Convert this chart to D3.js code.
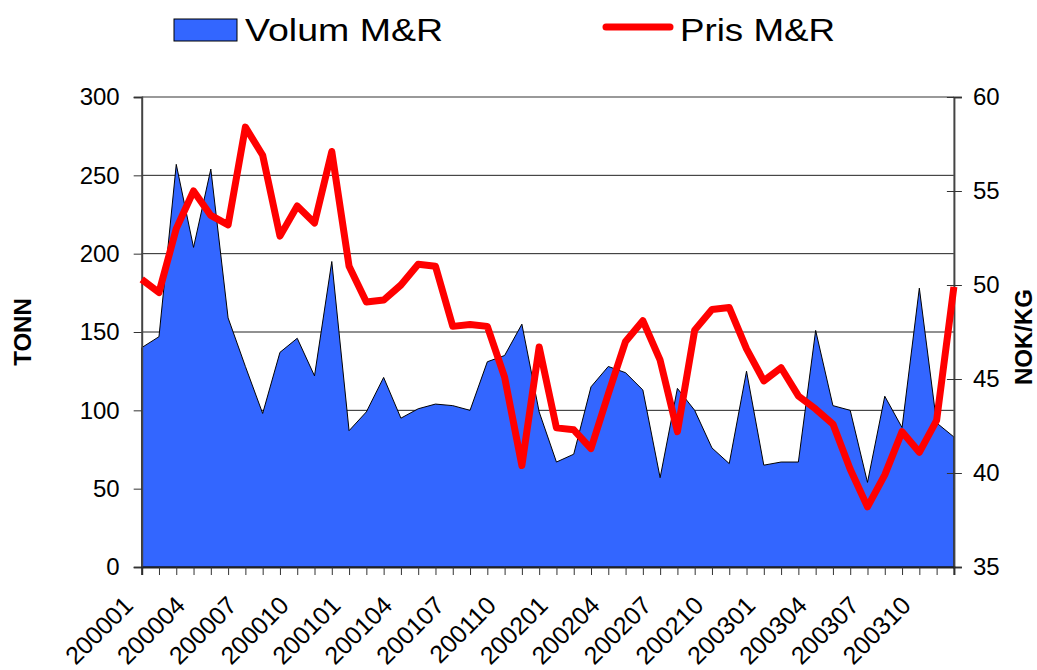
<!DOCTYPE html>
<html>
<head>
<meta charset="utf-8">
<title>Volum og pris M&amp;R</title>
<script src="https://d3js.org/d3.v7.min.js"></script>
<style>
  body { margin: 0; background: #fff; }
  svg text { font-family: "Liberation Sans", Arial, sans-serif; }
</style>
</head>
<body>
<svg id="chart" width="1037" height="670"></svg>
<script>
// months 2000-01 .. 2003-12
const months = [
  "200001","200002","200003","200004","200005","200006","200007","200008","200009","200010","200011","200012",
  "200101","200102","200103","200104","200105","200106","200107","200108","200109","200110","200111","200112",
  "200201","200202","200203","200204","200205","200206","200207","200208","200209","200210","200211","200212",
  "200301","200302","200303","200304","200305","200306","200307","200308","200309","200310","200311","200312"
]

// volume, tonn
const volum = [
  140, 147, 257, 204, 254, 159, 128, 98, 137, 146, 122, 195,
  87, 99, 121, 95, 101, 104, 103, 100, 131, 135, 155, 99,
  67, 72, 115, 128, 124, 113, 57, 114, 100, 76, 66, 125,
  65, 67, 67, 151, 103, 100, 54, 109, 89, 178, 92, 83
]

// price, NOK/kg
const pris = [
  50.3, 49.6, 53.0, 55.0, 53.7, 53.2, 58.4, 56.9, 52.6, 54.2, 53.3, 57.1,
  51.0, 49.1, 49.2, 50.0, 51.1, 51.0, 47.8, 47.9, 47.8, 45.1, 40.4, 46.7,
  42.4, 42.3, 41.3, 44.2, 47.0, 48.1, 46.0, 42.2, 47.6, 48.7, 48.8, 46.6,
  44.9, 45.6, 44.1, 43.4, 42.6, 40.2, 38.2, 39.9, 42.2, 41.1, 42.8, 49.9
]

const leftTicks = [0, 50, 100, 150, 200, 250, 300]
const rightTicks = [35, 40, 45, 50, 55, 60]

const svg = d3.select("#chart")
const pLeft = 141.7, pRight = 953.9, pTop = 97, pBottom = 567

let x = d3.scalePoint().domain(months).range([pLeft, pRight])
let yL = d3.scaleLinear().domain([0, 300]).range([pBottom, pTop])
let yR = d3.scaleLinear().domain([35, 60]).range([pBottom, pTop])

// gridlines (hidden behind the area)
svg.append("g")
  .selectAll("line")
  .data(leftTicks.filter(d => d > 0 && d < 300))
  .enter()
  .append("line")
  .attr("x1", pLeft).attr("x2", pRight)
  .attr("y1", d => yL(d)).attr("y2", d => yL(d))
  .attr("stroke", "#222")
  .attr("stroke-width", 1)

// top border of plot area
svg.append("line")
  .attr("x1", pLeft).attr("x2", pRight)
  .attr("y1", pTop).attr("y2", pTop)
  .attr("stroke", "#999")
  .attr("stroke-width", 2)

// volume area
let area = d3.area()
  .x((d, i) => x(months[i]))
  .y0(pBottom)
  .y1(d => yL(d))

svg.append("path")
  .datum(volum)
  .attr("d", area)
  .attr("fill", "#3366ff")
  .attr("stroke", "#000")
  .attr("stroke-width", 1)

// left axis
let axL = svg.append("g")
  .attr("transform", `translate(${pLeft},0)`)
  .call(d3.axisLeft(yL).tickValues(leftTicks).tickSize(8).tickPadding(14))
axL.select(".domain").attr("stroke", "#444").attr("stroke-width", 2)
axL.selectAll(".tick line").attr("stroke", "#333")
axL.selectAll("text").attr("font-size", 24).attr("fill", "#000")

// right axis
let axR = svg.append("g")
  .attr("transform", `translate(${pRight},0)`)
  .call(d3.axisRight(yR).tickValues(rightTicks).tickSize(8).tickPadding(11))
axR.select(".domain").attr("stroke", "#444").attr("stroke-width", 2)
axR.selectAll(".tick line").attr("stroke", "#333").attr("x1", -7)
axR.selectAll("text").attr("font-size", 24).attr("fill", "#000")

// bottom axis
let axB = svg.append("g")
  .attr("transform", `translate(0,${pBottom})`)
  .call(d3.axisBottom(x).tickSize(8).tickFormat(""))
axB.select(".domain").attr("stroke", "#222").attr("stroke-width", 2)
axB.selectAll(".tick line").attr("stroke", "#333")

svg.append("g")
  .selectAll("text")
  .data(months.filter((m, i) => i % 3 == 0))
  .enter()
  .append("text")
  .attr("transform", d => `translate(${x(d) - 7},607) rotate(-45)`)
  .attr("text-anchor", "end")
  .attr("font-size", 25)
  .text(d => d)

// price line
let line = d3.line()
  .x((d, i) => x(months[i]))
  .y(d => yR(d))

svg.append("path")
  .datum(pris)
  .attr("d", line)
  .attr("fill", "none")
  .attr("stroke", "#ff0000")
  .attr("stroke-width", 7)
  .attr("stroke-linejoin", "round")

// axis titles
svg.append("text")
  .attr("transform", "translate(31,332) rotate(-90)")
  .attr("text-anchor", "middle")
  .attr("font-size", 24)
  .attr("font-weight", "bold")
  .text("TONN")

svg.append("text")
  .attr("transform", "translate(1032,337) rotate(-90)")
  .attr("text-anchor", "middle")
  .attr("font-size", 24)
  .attr("font-weight", "bold")
  .text("NOK/KG")

// legend
let legend = svg.append("g")
legend.append("rect")
  .attr("x", 174).attr("y", 19)
  .attr("width", 63).attr("height", 22)
  .attr("fill", "#3366ff")
  .attr("stroke", "#000")
  .attr("stroke-width", 1)
legend.append("text")
  .attr("x", 245).attr("y", 41)
  .attr("font-size", 32)
  .attr("textLength", 198)
  .attr("lengthAdjust", "spacingAndGlyphs")
  .text("Volum M&R")
legend.append("line")
  .attr("x1", 606).attr("x2", 670)
  .attr("y1", 27).attr("y2", 27)
  .attr("stroke", "#ff0000")
  .attr("stroke-width", 7)
  .attr("stroke-linecap", "round")
legend.append("text")
  .attr("x", 680).attr("y", 41)
  .attr("font-size", 32)
  .attr("textLength", 155)
  .attr("lengthAdjust", "spacingAndGlyphs")
  .text("Pris M&R")
</script>
</body>
</html>
